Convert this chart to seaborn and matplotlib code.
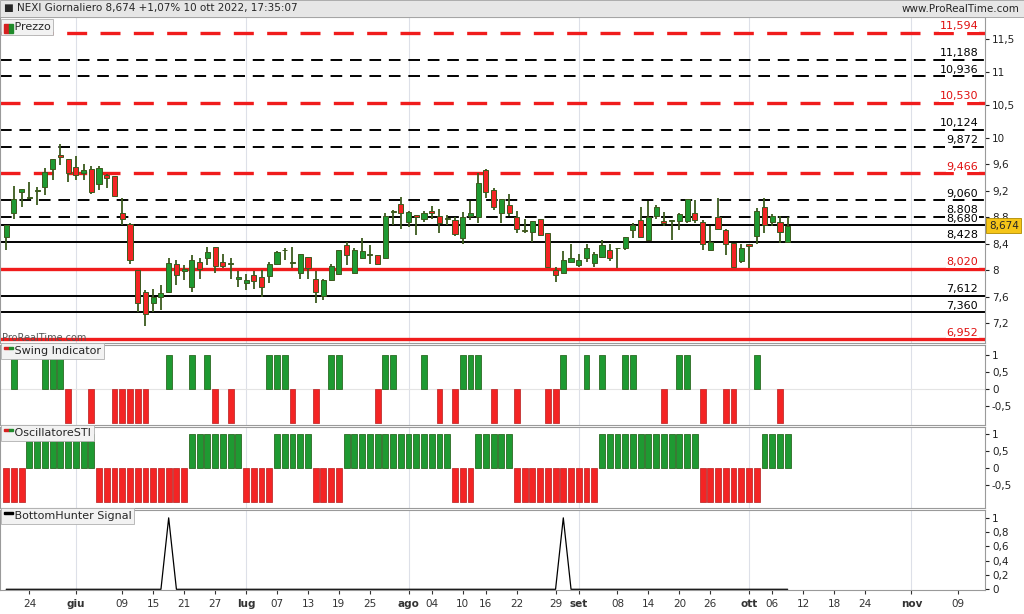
import numpy as np
import pandas as pd
import matplotlib
matplotlib.use("Agg")
import matplotlib.pyplot as plt
import matplotlib.transforms as mtransforms
from matplotlib.patches import Rectangle
import seaborn as sns

sns.set_style("white")
plt.rcParams['font.family'] = ['DejaVu Sans']

# ---- data ----
opens = [8.50, 8.86, 9.19, 9.10, 9.20, 9.26, 9.53, 9.75, 9.69, 9.56, 9.47, 9.53, 9.30, 9.44, 9.42, 8.87, 8.70,
         8.00, 7.67, 7.50, 7.60, 7.67, 8.09, 7.98, 7.75, 8.13, 8.18, 8.35, 8.13, 8.10, 7.86, 7.80, 7.93, 7.89,
         7.91, 8.09, 8.30, 8.11, 7.96, 8.20, 7.86, 7.61, 7.85, 7.94, 8.38, 7.96, 8.19, 8.23, 8.23, 8.18, 8.88,
         9.00, 8.73, 8.84, 8.77, 8.90, 8.82, 8.78, 8.76, 8.48, 8.82, 8.80, 9.52, 9.21, 8.86, 8.99, 8.80, 8.60,
         8.58, 8.77, 8.57, 8.00, 7.96, 8.13, 8.08, 8.18, 8.11, 8.20, 8.30, 8.33, 8.34, 8.61, 8.76, 8.46, 8.82,
         8.74, 8.74, 8.75, 8.75, 8.86, 8.73, 8.31, 8.81, 8.61, 8.41, 8.14, 8.40, 8.51, 8.95, 8.73, 8.73, 8.42]
closes = [8.68, 9.07, 9.23, 9.11, 9.21, 9.49, 9.69, 9.71, 9.47, 9.44, 9.51, 9.19, 9.55, 9.40, 9.12, 8.77, 8.16,
          7.51, 7.33, 7.60, 7.66, 8.11, 7.93, 8.01, 8.16, 8.01, 8.28, 8.06, 8.07, 8.11, 7.90, 7.85, 7.83, 7.74,
          8.09, 8.27, 8.31, 8.12, 8.25, 8.03, 7.67, 7.85, 8.06, 8.31, 8.23, 8.30, 8.29, 8.24, 8.10, 8.82, 8.90,
          8.86, 8.88, 8.81, 8.87, 8.86, 8.71, 8.79, 8.55, 8.80, 8.87, 9.32, 9.19, 8.95, 9.07, 8.86, 8.62, 8.59,
          8.74, 8.53, 8.05, 7.92, 8.15, 8.19, 8.16, 8.34, 8.25, 8.38, 8.19, 8.34, 8.50, 8.68, 8.50, 8.81, 8.95,
          8.72, 8.75, 8.85, 9.07, 8.76, 8.40, 8.43, 8.63, 8.40, 8.05, 8.34, 8.36, 8.90, 8.68, 8.82, 8.58, 8.674]
highs = [8.68, 9.27, 9.23, 9.33, 9.26, 9.54, 9.69, 9.91, 9.69, 9.73, 9.61, 9.58, 9.58, 9.46, 9.43, 9.10, 8.72,
         8.00, 7.70, 7.71, 7.77, 8.18, 8.16, 8.08, 8.23, 8.18, 8.35, 8.35, 8.25, 8.19, 7.99, 7.94, 7.98, 8.00,
         8.13, 8.29, 8.34, 8.35, 8.25, 8.20, 7.99, 7.86, 8.09, 8.31, 8.43, 8.33, 8.48, 8.38, 8.23, 8.87, 8.91,
         9.11, 8.90, 8.84, 8.90, 8.97, 8.92, 8.83, 8.80, 8.88, 9.04, 9.47, 9.53, 9.24, 9.07, 9.16, 8.89, 8.77,
         8.74, 8.78, 8.57, 8.05, 8.29, 8.40, 8.25, 8.40, 8.28, 8.46, 8.40, 8.33, 8.50, 8.72, 8.95, 9.04, 8.99,
         8.88, 8.76, 8.87, 9.07, 9.06, 8.76, 8.67, 9.09, 8.63, 8.41, 8.39, 8.40, 8.94, 9.09, 8.85, 8.82, 8.80]
lows = [8.31, 8.77, 8.96, 9.07, 8.99, 9.14, 9.37, 9.59, 9.34, 9.36, 9.37, 9.16, 9.22, 9.24, 9.12, 8.68, 8.09,
        7.37, 7.15, 7.37, 7.40, 7.65, 7.77, 7.85, 7.67, 7.87, 8.08, 7.95, 8.04, 7.86, 7.75, 7.70, 7.71, 7.60,
        7.80, 8.08, 8.15, 8.04, 7.87, 7.86, 7.50, 7.55, 7.84, 7.93, 8.08, 7.95, 8.17, 8.10, 8.09, 8.18, 8.68,
        8.63, 8.66, 8.53, 8.73, 8.78, 8.56, 8.68, 8.51, 8.40, 8.76, 8.72, 9.10, 8.91, 8.72, 8.82, 8.57, 8.57,
        8.43, 8.52, 8.03, 7.82, 7.95, 8.11, 8.05, 8.13, 8.05, 8.18, 8.14, 8.04, 8.30, 8.48, 8.48, 8.46, 8.77,
        8.67, 8.45, 8.61, 8.71, 8.72, 8.30, 8.30, 8.61, 8.23, 8.04, 8.11, 8.04, 8.40, 8.57, 8.67, 8.41, 8.42]

levels = [11.594, 11.188, 10.936, 10.530, 10.124, 9.872, 9.466, 9.060, 8.808, 8.680, 8.428, 8.020, 7.612, 7.360, 6.952]
level_colors = ['red', 'black', 'black', 'red', 'black', 'black', 'red', 'black', 'black',
                'black', 'black', 'red', 'black', 'black', 'red']
level_dashed = [True] * 9 + [False] * 6

swing_up = [1, 5, 6, 7, 21, 24, 26, 34, 35, 36, 42, 43, 49, 50, 54, 59, 60, 61, 72, 75, 77, 80, 81, 87, 88, 97]
swing_down = [8, 11, 14, 15, 16, 17, 18, 27, 29, 37, 40, 48, 56, 58, 63, 66, 70, 71, 85, 90, 93, 94, 100]

# STI state runs: (first index, last index, sign)
sti_runs = [(0, 2, -1), (3, 11, 1), (12, 23, -1), (24, 30, 1), (31, 34, -1), (35, 39, 1), (40, 43, -1),
            (44, 57, 1), (58, 60, -1), (61, 65, 1), (66, 76, -1), (77, 89, 1), (90, 97, -1), (98, 101, 1)]

bh_spikes = [21, 72]

tick_dates = ['2022-05-24', '2022-06-01', '2022-06-09', '2022-06-15', '2022-06-21', '2022-06-27',
              '2022-07-01', '2022-07-07', '2022-07-13', '2022-07-19', '2022-07-25', '2022-08-01',
              '2022-08-04', '2022-08-10', '2022-08-16', '2022-08-22', '2022-08-29', '2022-09-01',
              '2022-09-08', '2022-09-14', '2022-09-20', '2022-09-26', '2022-10-03', '2022-10-06',
              '2022-10-12', '2022-10-18', '2022-10-24', '2022-11-01', '2022-11-09']
tick_labels = ['24', 'giu', '09', '15', '21', '27', 'lug', '07', '13', '19', '25', 'ago', '04', '10', '16',
               '22', '29', 'set', '08', '14', '20', '26', 'ott', '06', '12', '18', '24', 'nov', '09']
month_dates = ['2022-06-01', '2022-07-01', '2022-08-01', '2022-09-01', '2022-10-03', '2022-11-01']

# ---- calendar ----
n = len(opens)
cbd = pd.offsets.CustomBusinessDay(holidays=['2022-08-15'])
days = pd.date_range(end='2022-10-10', periods=n, freq=cbd)
all_days = pd.date_range(start=days[0], periods=150, freq=cbd)
pos = {d.strftime('%Y-%m-%d'): i for i, d in enumerate(all_days)}
xt = [pos[d] for d in tick_dates]
xm = [pos[d] for d in month_dates]
idx = np.arange(n)

GREEN = '#1e9a32'
RED = '#f42424'
EDGE = '#3c5a1e'
XLIM = (-0.8, 126.5)
BW = 0.76

W, H = 1024, 614
fig = plt.figure(figsize=(W / 100, H / 100), dpi=100)


def px_axes(top, bottom):
    return fig.add_axes([0, (H - bottom) / H, 985 / W, (bottom - top) / H])


def style(ax, label, icon):
    ax.set_xlim(*XLIM)
    ax.yaxis.tick_right()
    ax.tick_params(axis='y', labelsize=7.5, colors='#222222', length=3, pad=2)
    ax.tick_params(axis='x', bottom=False, labelbottom=False)
    for s in ax.spines.values():
        s.set_color('#9a9a9a')
        s.set_linewidth(0.8)
    for m in xm:
        ax.axvline(m, color='#dde0e8', lw=0.8, zorder=0)
    ax.text(0.004, 0.985, '   ' + label, transform=ax.transAxes, fontsize=8, va='top', ha='left',
            bbox=dict(boxstyle='square,pad=0.25', fc='#f2f2f2', ec='#b0b0b0', lw=0.6), zorder=10)
    if icon == 'rg':
        ax.add_patch(Rectangle((0.0045, 0.95), 0.0045, 0.03, transform=ax.transAxes, color='#d62020', zorder=11))
        ax.add_patch(Rectangle((0.009, 0.95), 0.0045, 0.03, transform=ax.transAxes, color='#1f8a2a', zorder=11))
    else:
        ax.add_patch(Rectangle((0.0045, 0.95), 0.009, 0.03, transform=ax.transAxes, color='black', zorder=11))


# ---- price panel ----
ax = px_axes(17, 343)
style(ax, 'Prezzo', 'rg')
ax.set_ylim(6.897, 11.833)
ax.set_yticks([7.2, 7.6, 8, 8.4, 8.8, 9.2, 9.6, 10, 10.5, 11, 11.5])
ax.set_yticklabels(['7,2', '7,6', '8', '8,4', '8,8', '9,2', '9,6', '10', '10,5', '11', '11,5'])
trans = mtransforms.blended_transform_factory(ax.transAxes, ax.transData)
for lv, c, d in zip(levels, level_colors, level_dashed):
    lw = 2.4 if c == 'red' else 1.4
    ls = (0, (6, 4)) if d else '-'
    ax.axhline(lv, color=c if c == 'black' else '#f01c1c', lw=lw, ls=ls, zorder=1)
    ax.text(0.993, lv + 0.1, f'{lv:.3f}'.replace('.', ','), transform=trans, ha='right', va='center',
            fontsize=8, color='#e01010' if c == 'red' else 'black',
            bbox=dict(fc='white', ec='none', pad=0.5), zorder=3)

o = np.array(opens); c = np.array(closes)
cols = [GREEN if cc >= oo else RED for oo, cc in zip(o, c)]
ax.vlines(idx, lows, highs, color=EDGE, lw=1.3, zorder=4)
body = np.maximum(np.abs(c - o), 0.012)
ax.bar(idx, body, bottom=np.minimum(o, c), width=0.66, color=cols, edgecolor=EDGE, lw=0.7, zorder=5)
ax.text(1.004, closes[-1], '8,674', transform=trans, fontsize=7.5, va='center', ha='left',
        bbox=dict(boxstyle='square,pad=0.25', fc='#f5c518', ec='#b08a00', lw=0.6), clip_on=False, zorder=12)
ax.text(0.002, 0.0, 'ProRealTime.com', transform=ax.transAxes, fontsize=7, color='#555555', va='bottom')

# ---- swing indicator ----
ax2 = px_axes(345, 425)
style(ax2, 'Swing Indicator', 'rg')
ax2.set_ylim(-1.06, 1.29)
ax2.set_yticks([1, 0.5, 0, -0.5])
ax2.set_yticklabels(['1', '0,5', '0', '-0,5'])
ax2.axhline(0, color='#e4e4e4', lw=0.8, zorder=0)
ax2.bar(swing_up, [1] * len(swing_up), width=BW, color=GREEN, edgecolor='#2a6a22', lw=0.6)
ax2.bar(swing_down, [-1] * len(swing_down), width=BW, color=RED, edgecolor='#c03030', lw=0.6)

# ---- oscillatore STI ----
ax3 = px_axes(427, 508)
style(ax3, 'OscillatoreSTI', 'rg')
ax3.set_ylim(-1.18, 1.21)
ax3.set_yticks([1, 0.5, 0, -0.5])
ax3.set_yticklabels(['1', '0,5', '0', '-0,5'])
sti = np.zeros(n)
for a, b, s in sti_runs:
    sti[a:b + 1] = s
ax3.bar(idx, sti, width=BW, color=[GREEN if v > 0 else RED for v in sti],
        edgecolor=['#2a6a22' if v > 0 else '#c03030' for v in sti], lw=0.6)

# ---- bottom hunter ----
ax4 = px_axes(510, 590)
style(ax4, 'BottomHunter Signal', 'k')
bh = np.zeros(n)
bh[bh_spikes] = 1
sns.lineplot(x=idx, y=bh, ax=ax4, color='black', lw=0.9)
ax4.set_xlim(*XLIM)
ax4.set_ylim(-0.01, 1.11)
ax4.set_yticks([1, 0.8, 0.6, 0.4, 0.2, 0])
ax4.set_yticklabels(['1', '0,8', '0,6', '0,4', '0,2', '0'])
ax4.set_xlabel('')
ax4.tick_params(axis='x', bottom=True, labelbottom=True, labelsize=7.5, colors='#333333', length=3)
ax4.set_xticks(xt)
ax4.set_xticklabels(tick_labels)
for t, lab in zip(ax4.get_xticklabels(), tick_labels):
    if not lab.isdigit():
        t.set_fontweight('bold')

# ---- header bar ----
fig.patches.append(Rectangle((0, (H - 17) / H), 1, 17 / H, transform=fig.transFigure,
                             fc='#e6e6e6', ec='#a0a0a0', lw=0.6, zorder=0))
fig.text(0.004, (H - 8.5) / H, '\u25A0 NEXI Giornaliero 8,674 +1,07% 10 ott 2022, 17:35:07',
         fontsize=7.5, va='center', ha='left')
fig.text(0.996, (H - 8.5) / H, 'www.ProRealTime.com', fontsize=7.5, va='center', ha='right')

fig.savefig('out.png', dpi=100)
